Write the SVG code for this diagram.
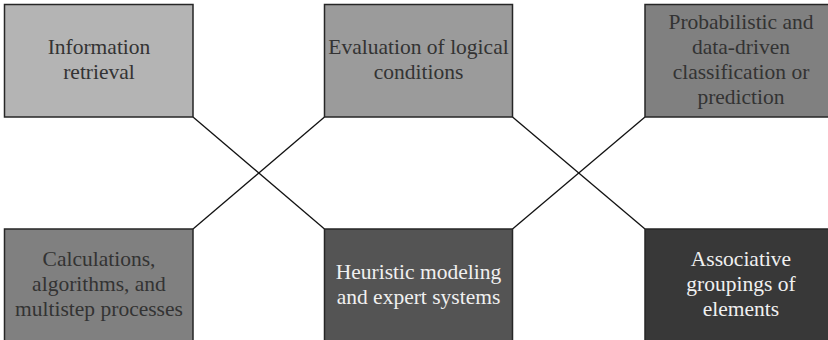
<svg xmlns="http://www.w3.org/2000/svg" width="828" height="340" viewBox="0 0 828 340">
<style>
.box{stroke:#262626;stroke-width:1.5}
.t{font-size:21.5px;text-anchor:middle}
.dk{fill:#333333}
.lt{fill:#f0f0f0}
.conn line{stroke:#111;stroke-width:1.3}
</style>
<rect width="828" height="340" fill="#ffffff"/>
<g class="conn" id="connectors">
<line x1="193" y1="117" x2="324.5" y2="229"/>
<line x1="193" y1="229" x2="324.5" y2="117"/>
<line x1="512.5" y1="117" x2="645" y2="229"/>
<line x1="512.5" y1="229" x2="645" y2="117"/>
</g>
<g font-family="'Liberation Serif', 'DejaVu Serif', serif">
<g id="info">
<rect class="box" x="4.5" y="4.5" width="188.5" height="112.5" fill="#b4b4b4"/>
<text class="t dk" x="99" y="54">Information</text>
<text class="t dk" x="99" y="79">retrieval</text>
</g>
<g id="eval">
<rect class="box" x="324.5" y="4.5" width="188" height="112.5" fill="#9b9b9b"/>
<text class="t dk" x="418.5" y="54">Evaluation of logical</text>
<text class="t dk" x="418.5" y="79">conditions</text>
</g>
<g id="prob">
<rect class="box" x="645" y="4.5" width="190" height="112.5" fill="#808080"/>
<text class="t dk" x="741" y="28.5">Probabilistic and</text>
<text class="t dk" x="741" y="53.5">data-driven</text>
<text class="t dk" x="741" y="79">classification or</text>
<text class="t dk" x="741" y="104">prediction</text>
</g>
<g id="calc">
<rect class="box" x="4.5" y="229" width="188.5" height="120" fill="#808080"/>
<text class="t dk" x="99" y="266">Calculations,</text>
<text class="t dk" x="99" y="291">algorithms, and</text>
<text class="t dk" x="99" y="316">multistep processes</text>
</g>
<g id="heur">
<rect class="box" x="324.5" y="229" width="188" height="120" fill="#545454"/>
<text class="t lt" x="418.5" y="279">Heuristic modeling</text>
<text class="t lt" x="418.5" y="304">and expert systems</text>
</g>
<g id="assoc">
<rect class="box" x="645" y="229" width="190" height="120" fill="#383838"/>
<text class="t lt" x="741" y="266">Associative</text>
<text class="t lt" x="741" y="291">groupings of</text>
<text class="t lt" x="741" y="316">elements</text>
</g>
</g>
</svg>
